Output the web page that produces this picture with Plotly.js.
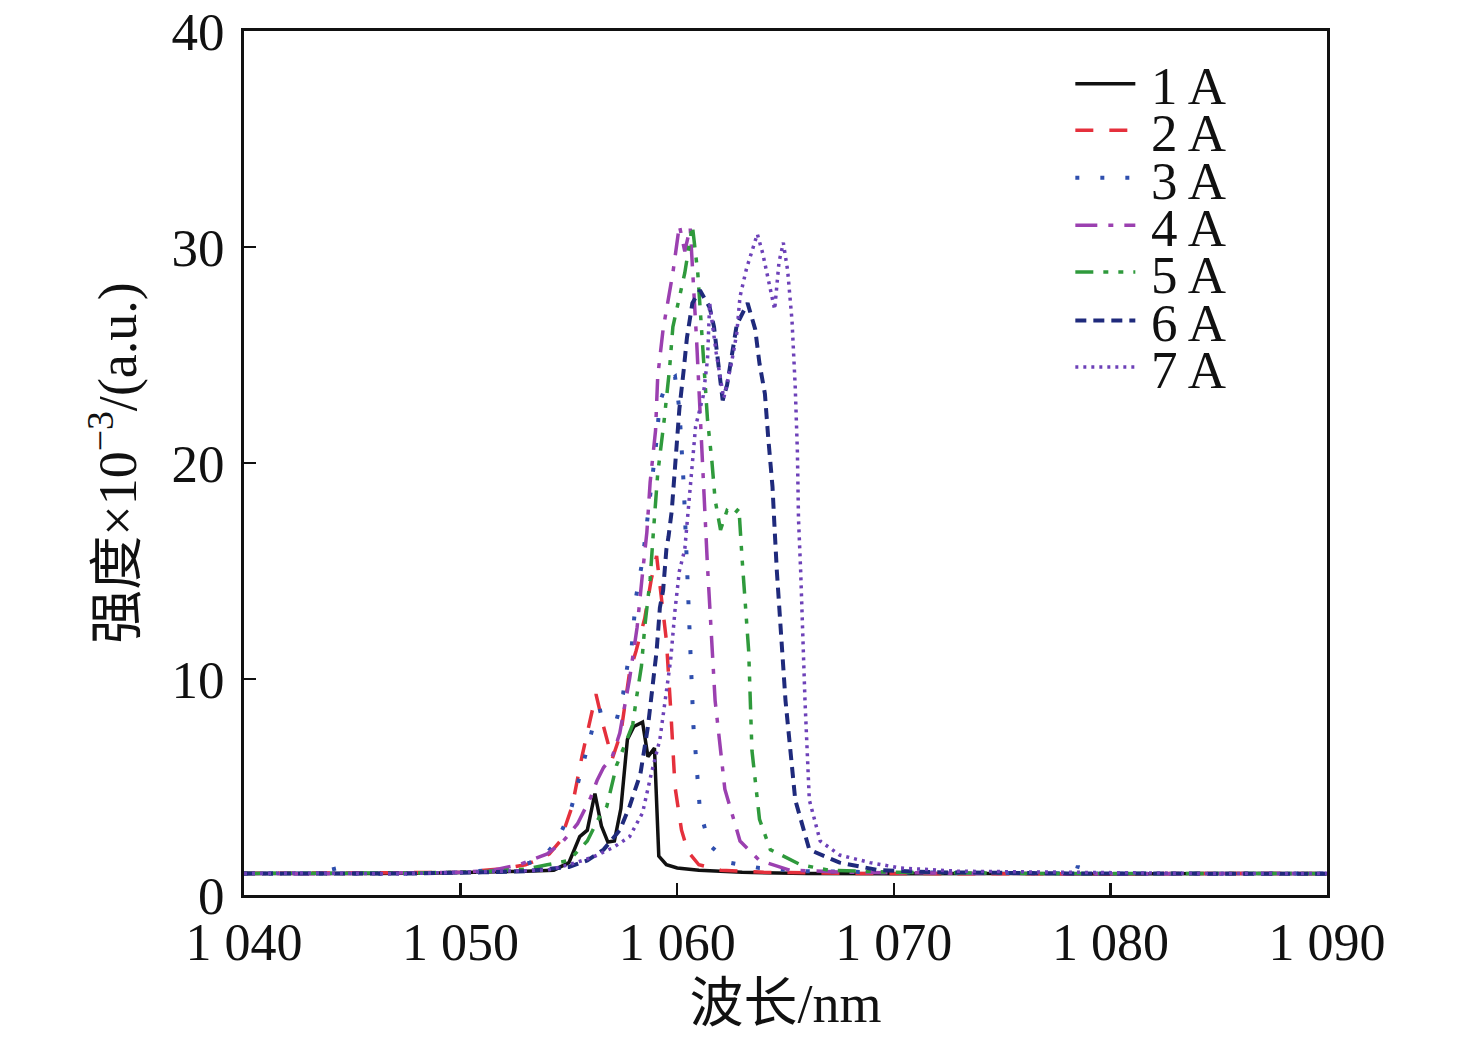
<!DOCTYPE html>
<html>
<head>
<meta charset="utf-8">
<script src="https://cdn.plot.ly/plotly-3.0.1.min.js"></script>
<style>
  body { margin: 0; background: #fff; }
</style>
</head>
<body>
<div id="chart"></div>
<script>
// wavelength (nm) / intensity (x10^-3 a.u.)
const names = ['1 A', '2 A', '3 A', '4 A', '5 A', '6 A', '7 A'];

const wl1  = [1040, 1043, 1046, 1049, 1051, 1053, 1054.3, 1055.0, 1055.5, 1055.85, 1056.2, 1056.5, 1056.8, 1057.1, 1057.4, 1057.7, 1058.0, 1058.4, 1058.65, 1058.95, 1059.15, 1059.5, 1060, 1061, 1063, 1066, 1070, 1075, 1080, 1085, 1090];
const int1 = [1.0, 0.98, 1.0, 1.02, 1.05, 1.1, 1.15, 1.5, 2.7, 3.0, 4.7, 3.2, 2.45, 2.5, 4.0, 7.2, 7.8, 8.0, 6.4, 6.8, 1.8, 1.4, 1.25, 1.15, 1.05, 1.0, 0.98, 1.0, 0.97, 1.0, 0.98];

const wl2  = [1040, 1044, 1048, 1050, 1051.8, 1053.0, 1053.5, 1054.1, 1054.6, 1055.15, 1055.6, 1056.05, 1056.25, 1056.6, 1057.0, 1057.4, 1057.8, 1058.1, 1058.5, 1058.8, 1059.05, 1059.3, 1059.5, 1059.7, 1059.9, 1060.2, 1060.5, 1061, 1062, 1064, 1068, 1075, 1082, 1090];
const int2 = [1.0, 1.02, 1.0, 1.05, 1.2, 1.4, 1.6, 1.9, 2.5, 4.1, 6.4, 8.4, 9.3, 7.8, 6.3, 7.5, 10.3, 11.3, 12.8, 14.6, 15.7, 13.5, 11.8, 8.6, 5.0, 3.0, 2.0, 1.4, 1.15, 1.05, 1.0, 0.98, 1.0, 1.0];

const wl3  = [1040, 1042, 1044, 1044.1, 1044.2, 1047, 1050, 1052, 1053.2, 1053.9, 1054.45, 1055.05, 1055.6, 1055.9, 1056.3, 1056.8, 1057.2, 1057.5, 1057.7, 1057.9, 1058.1, 1058.4, 1058.75, 1059.0, 1059.2, 1059.5, 1059.9, 1060.1, 1060.3, 1060.45, 1060.55, 1060.65, 1060.75, 1060.85, 1061.05, 1061.5, 1062.4, 1063.8, 1066, 1070, 1075, 1078.4, 1078.5, 1078.6, 1082, 1090];
const int3 = [1.0, 1.02, 1.0, 1.45, 1.0, 0.98, 1.05, 1.2, 1.5, 1.85, 2.5, 3.8, 5.8, 7.0, 8.5, 8.6, 8.1, 9.3, 10.6, 11.5, 13.8, 15.5, 18.3, 20.6, 22.8, 23.7, 24.0, 22.5, 19.0, 15.6, 12.3, 10.1, 7.8, 6.6, 3.9, 2.3, 1.5, 1.25, 1.1, 1.05, 1.0, 1.0, 1.35, 1.0, 0.98, 1.0];

const wl4  = [1040, 1043, 1047, 1050, 1051.5, 1052.7, 1054.0, 1054.7, 1055.4, 1056.0, 1056.3, 1056.6, 1057.0, 1057.35, 1057.8, 1058.15, 1058.4, 1058.6, 1058.75, 1059.0, 1059.1, 1059.35, 1059.8, 1060.1, 1060.35, 1060.6, 1060.9, 1061.05, 1061.2, 1061.3, 1061.4, 1061.75, 1062.2, 1062.9, 1063.8, 1065.2, 1068, 1074, 1081, 1090];
const int4 = [1.0, 0.98, 1.02, 1.05, 1.15, 1.4, 1.9, 2.45, 3.3, 4.5, 5.3, 5.9, 6.4, 7.5, 10.0, 12.4, 14.9, 16.8, 19.1, 21.5, 24.0, 26.2, 28.8, 31.0, 29.8, 30.9, 25.6, 22.3, 19.8, 17.5, 15.2, 9.0, 4.9, 2.5, 1.6, 1.15, 1.05, 1.0, 0.98, 1.0];

const wl5  = [1040, 1044, 1048, 1051, 1053, 1054, 1055, 1055.85, 1056.4, 1056.75, 1057.2, 1057.6, 1057.95, 1058.1, 1058.35, 1058.5, 1058.75, 1058.9, 1059.1, 1059.4, 1059.65, 1059.8, 1060.35, 1060.7, 1060.95, 1061.15, 1061.3, 1061.4, 1061.6, 1061.75, 1062.0, 1062.3, 1062.6, 1062.85, 1063.0, 1063.3, 1063.45, 1063.8, 1064.3, 1065.7, 1067, 1070, 1076, 1083, 1090];
const int5 = [1.0, 1.0, 1.02, 1.08, 1.2, 1.4, 1.6, 2.5, 3.6, 4.1, 6.0, 7.0, 7.9, 9.0, 10.6, 12.4, 14.6, 16.8, 19.5, 22.0, 24.4, 26.3, 28.8, 31.0, 28.8, 25.8, 23.7, 22.0, 20.1, 18.3, 16.9, 17.8, 17.6, 17.9, 15.5, 11.3, 6.7, 3.5, 2.1, 1.4, 1.15, 1.05, 1.0, 0.98, 1.0];

const wl6  = [1040, 1044, 1048, 1051, 1053, 1055, 1055.85, 1056.6, 1057.35, 1057.8, 1058.3, 1058.65, 1058.85, 1059.05, 1059.2, 1059.35, 1059.5, 1059.6, 1059.75, 1059.9, 1060.1, 1060.3, 1060.45, 1060.7, 1061.05, 1061.5, 1061.7, 1061.85, 1062.1, 1062.3, 1062.75, 1063.25, 1063.6, 1063.8, 1064.05, 1064.2, 1064.4, 1064.5, 1064.6, 1065.0, 1065.45, 1066.1, 1067.5, 1069.3, 1072, 1078, 1084, 1090];
const int6 = [1.0, 0.98, 1.0, 1.05, 1.1, 1.3, 1.6, 2.1, 3.0, 4.1, 5.6, 7.8, 9.5, 11.3, 13.3, 14.1, 16.0, 16.6, 17.8, 19.8, 22.5, 24.3, 25.8, 27.4, 28.0, 27.2, 26.3, 25.0, 22.9, 23.6, 26.4, 27.4, 26.2, 24.6, 23.2, 21.2, 18.9, 16.9, 15.0, 9.0, 4.4, 2.1, 1.5, 1.15, 1.05, 1.0, 1.0, 0.98];

const wl7  = [1040, 1043, 1047, 1050, 1052, 1054, 1055, 1056.1, 1057.05, 1057.8, 1058.4, 1058.8, 1059.2, 1059.5, 1059.7, 1059.9, 1060.1, 1060.35, 1060.55, 1060.7, 1060.85, 1061.2, 1061.4, 1061.5, 1061.8, 1062.15, 1062.5, 1062.75, 1062.9, 1063.2, 1063.7, 1063.95, 1064.2, 1064.5, 1064.7, 1064.9, 1065.1, 1065.3, 1065.45, 1065.55, 1065.6, 1065.7, 1065.9, 1066.1, 1066.6, 1067.5, 1068.9, 1070.3, 1073, 1078, 1084, 1090];
const int7 = [1.0, 1.02, 0.98, 1.05, 1.1, 1.15, 1.4, 1.75, 2.2, 2.7, 3.8, 5.6, 7.2, 9.5, 10.9, 13.2, 15.0, 16.0, 18.3, 20.0, 21.7, 23.1, 24.8, 27.4, 25.1, 23.0, 24.6, 26.0, 27.7, 29.0, 30.6, 29.7, 28.5, 27.1, 29.3, 30.2, 28.9, 26.6, 23.5, 20.5, 17.4, 15.0, 9.0, 4.4, 2.5, 1.85, 1.5, 1.25, 1.1, 1.05, 1.0, 1.0];

const xTickVals = [1040, 1050, 1060, 1070, 1080, 1090];
const xTickText = ['1 040', '1 050', '1 060', '1 070', '1 080', '1 090'];

const allX = [wl1, wl2, wl3, wl4, wl5, wl6, wl7];
const allY = [int1, int2, int3, int4, int5, int6, int7];
const colors = ['#111111', '#e5303c', '#2f4fae', '#9b40b0', '#2f9a3c', '#1f2a7c', '#6d41b8'];
const dashes = ['solid', '18px,16px', '4px,21px', '22px,11px,5px,11px', '18px,10px,5px,10px,5px,10px', '11px,7px', '3px,5px'];
const widths = [3.5, 3.5, 4, 3.5, 3.5, 4, 3.5];

const serif = 'Liberation Serif, Times New Roman, Noto Sans CJK SC, serif';

const traces = names.map((n, i) => ({
    x: allX[i],
    y: allY[i],
    name: '\u2009' + n,
    type: 'scatter',
    mode: 'lines',
    line: { color: colors[i], dash: dashes[i], width: widths[i] },
    legend: i === 0 ? 'legend' : 'legend' + (i + 1)
}));

const layout = {
    width: 1476,
    height: 1044,
    margin: { l: 244, r: 149, t: 31, b: 149 },
    paper_bgcolor: '#fff',
    plot_bgcolor: '#fff',
    showlegend: true,
    font: { family: serif, color: '#111', size: 50 },
    xaxis: {
        range: [1040, 1090],
        tickvals: xTickVals,
        ticktext: xTickText,
        ticks: 'inside',
        ticklen: 12,
        tickwidth: 2.5,
        tickcolor: '#111',
        showline: true,
        linewidth: 3,
        linecolor: '#111',
        mirror: true,
        showgrid: false,
        zeroline: false,
        tickfont: { family: serif, size: 52, color: '#111' },
        title: { text: '波长/nm', font: { family: serif, size: 54, color: '#111' }, standoff: 14 }
    },
    yaxis: {
        range: [0, 40],
        dtick: 10,
        ticks: 'inside',
        ticklen: 12,
        tickwidth: 2.5,
        tickcolor: '#111',
        showline: true,
        linewidth: 3,
        linecolor: '#111',
        mirror: true,
        showgrid: false,
        zeroline: false,
        ticklabelstandoff: 6,
        tickfont: { family: serif, size: 53, color: '#111' },
        title: { text: '强度×10<sup>−3</sup>/(a.u.)', font: { family: serif, size: 54, color: '#111' }, standoff: 18 }
    }
};

// one legend per entry so rows can sit as tightly as in the figure
const legendRows = [0.939, 0.885, 0.830, 0.775, 0.721, 0.665, 0.611];
legendRows.forEach((yy, i) => {
    layout[i === 0 ? 'legend' : 'legend' + (i + 1)] = {
        x: 0.763,
        y: yy,
        xanchor: 'left',
        yanchor: 'middle',
        bgcolor: 'rgba(0,0,0,0)',
        borderwidth: 0,
        itemwidth: 60,
        font: { family: serif, size: 53, color: '#111' }
    };
});

Plotly.newPlot('chart', traces, layout, { staticPlot: true });
</script>
</body>
</html>
